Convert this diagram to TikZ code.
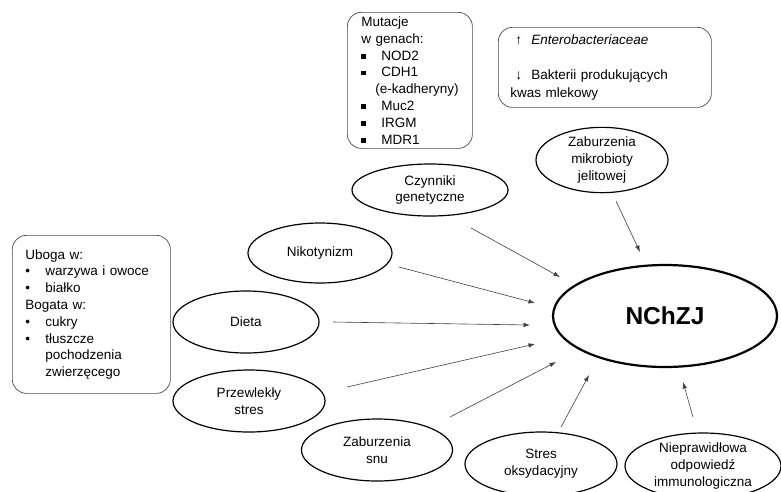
\documentclass[tikz,border=0pt]{standalone}
\usepackage{fontspec}
\setmainfont{Liberation Sans}
\usetikzlibrary{shapes.geometric,arrows.meta}
\newcommand{\sqbl}{\makebox[20pt][l]{\raisebox{1.5pt}{\rule{4.5pt}{4.5pt}}}}
\newcommand{\rdbl}{\makebox[20pt][l]{\textbullet}}
\begin{document}
\begin{tikzpicture}[x=1pt,y=-1pt,
  every node/.style={font=\fontsize{13.5}{16.8}\selectfont},
  oval/.style={ellipse, draw=black, line width=1.2pt, inner sep=0pt, align=center},
  infobox/.style={draw=black!70, line width=0.7pt, rounded corners=14pt, align=left, inner ysep=0pt, anchor=north west},
  conn/.style={draw=black!75, line width=0.6pt, -{Latex[length=6.5pt,width=4.5pt]}}]
\clip (0,0) rectangle (781,491);
\fill[white] (0,0) rectangle (781,491);

% info boxes
\node[infobox, inner xsep=14pt, text width=97pt, minimum height=136pt] (mut) at (347,12)
  {Mutacje\\ w genach:\\ \sqbl NOD2\\ \sqbl CDH1\\ \mbox{\hspace*{14pt}(e-kadheryny)}\\ \sqbl Muc2\\ \sqbl IRGM\\ \sqbl MDR1};
\node[infobox, inner xsep=12pt, text width=189pt, minimum height=80pt,
  font=\fontsize{13.5}{17.6}\selectfont] (ent) at (498,27)
  {\hspace*{5pt}\makebox[16pt][l]{↑}\textit{Enterobacteriaceae}\\[17.6pt]
   \hspace*{5pt}\makebox[16pt][l]{↓}Bakterii produkujących\\ kwas mlekowy};
\node[infobox, inner xsep=13pt, text width=132pt, minimum height=158pt] (ubo) at (12,235)
  {Uboga w:\\ \rdbl warzywa i owoce\\ \rdbl białko\\ Bogata w:\\ \rdbl cukry\\ \rdbl tłuszcze\\ \hspace*{20pt}pochodzenia\\ \hspace*{20pt}zwierzęcego};

% ellipses
\node[oval, minimum width=132pt, minimum height=64pt] (mik) at (602,160) {Zaburzenia\\ mikrobioty\\ jelitowej};
\node[oval, minimum width=156pt, minimum height=52pt] (gen) at (430,190) {Czynniki\\ genetyczne};
\node[oval, minimum width=144pt, minimum height=60pt] (nik) at (320,253) {Nikotynizm};
\node[oval, minimum width=146pt, minimum height=62pt] (die) at (246,322) {Dieta};
\node[oval, minimum width=152pt, minimum height=62pt] (prz) at (249,401) {Przewlekły\\ stres};
\node[oval, minimum width=151pt, minimum height=62pt] (snu) at (377,450) {Zaburzenia\\ snu};
\node[oval, minimum width=152pt, minimum height=64pt] (oks) at (541,464) {Stres\\ oksydacyjny};
\node[oval, minimum width=156pt, minimum height=66pt] (imm) at (703,466) {Nieprawidłowa\\ odpowiedź\\ immunologiczna};
\node[oval, line width=2.2pt, minimum width=224pt, minimum height=102pt,
  font=\fontsize{24.5}{30}\selectfont\bfseries] (nch) at (665,316) {NChZJ};

% connector end points
\coordinate (gA) at (471,228); \coordinate (gB) at (560,277);
\coordinate (nA) at (399,267); \coordinate (nB) at (535,303);
\coordinate (dA) at (333,322); \coordinate (dB) at (530,325);
\coordinate (pA) at (347,387); \coordinate (pB) at (535,344);
\coordinate (sA) at (450,417); \coordinate (sB) at (556,362);
\coordinate (oA) at (561,427); \coordinate (oB) at (589,375);
\coordinate (iA) at (693,417); \coordinate (iB) at (683,382);
\coordinate (mA) at (616,201); \coordinate (mB) at (640,252);

\draw[conn] (gA) -- (gB);
\draw[conn] (nA) -- (nB);
\draw[conn] (dA) -- (dB);
\draw[conn] (pA) -- (pB);
\draw[conn] (sA) -- (sB);
\draw[conn] (oA) -- (oB);
\draw[conn] (iA) -- (iB);
\draw[conn] (mA) -- (mB);
\end{tikzpicture}
\end{document}
